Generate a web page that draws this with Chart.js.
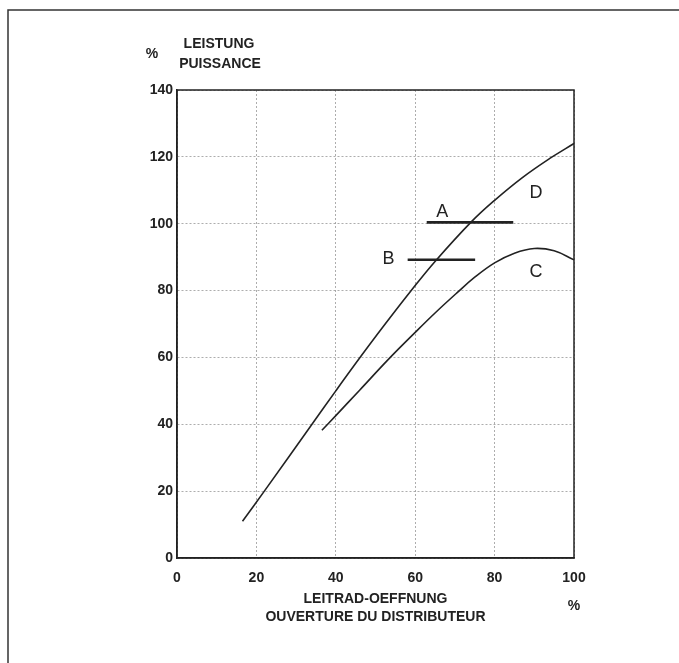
<!DOCTYPE html>
<html>
<head>
<meta charset="utf-8">
<script src="https://cdn.jsdelivr.net/npm/chart.js@4"></script>
<style>
  html, body { margin: 0; padding: 0; background: #fff; }
  canvas { display: block; }
</style>
</head>
<body>
<canvas id="chart" width="679" height="663"></canvas>
<script>
// curve D (upper) and curve C (lower)
const curveDX = [16.5, 22, 34, 40, 46, 52, 59, 65, 74, 80, 87, 94, 100];
const curveDY = [11, 20, 40, 50, 59.8, 69.3, 80, 88.7, 100.4, 107, 113.8, 119.6, 124];
const curveCX = [36.5, 40, 46, 53.3, 60, 65, 70.5, 75, 80, 85, 90, 95, 100];
const curveCY = [38.2, 42.6, 50.2, 59.5, 67.5, 73.3, 79.3, 84, 88.3, 91.2, 92.6, 91.9, 89.2];

// horizontal bars A and B
const barAX = [62.9, 84.7];
const barAY = [100.4, 100.4];
const barBX = [58.1, 75.1];
const barBY = [89.2, 89.2];

// letters next to the curves / bars
const markText = ["A", "B", "C", "D"];
const markX = [66.8, 53.3, 90.4, 90.4];
const markY = [103.4, 89.5, 85.5, 109.3];

const yTitle = ["LEISTUNG", "PUISSANCE"];
const xTitle = ["LEITRAD-OEFFNUNG", "OUVERTURE DU DISTRIBUTEUR"];
const unitLabel = "%";

const FONT = "'Liberation Sans', Arial, Helvetica, sans-serif";

const pts = (xs, ys) => xs.map((x, i) => ({ x: x, y: ys[i] }));

const paperPlugin = {
  id: "paper",
  beforeDraw(chart) {
    const ctx = chart.ctx;
    ctx.save();
    ctx.fillStyle = "#fff";
    ctx.fillRect(0, 0, chart.width, chart.height);
    // outer frame of the figure
    ctx.strokeStyle = "#333";
    ctx.lineWidth = 1.5;
    ctx.beginPath();
    ctx.moveTo(8, chart.height);
    ctx.lineTo(8, 10);
    ctx.lineTo(chart.width, 10);
    ctx.stroke();
    ctx.restore();
  },
  afterDraw(chart) {
    const ctx = chart.ctx;
    const a = chart.chartArea;
    const xs = chart.scales.x;
    const ys = chart.scales.y;
    ctx.save();
    // plot box
    ctx.strokeStyle = "#222";
    ctx.lineWidth = 1.5;
    ctx.strokeRect(a.left, a.top, a.right - a.left, a.bottom - a.top);

    // y axis heading
    ctx.fillStyle = "#222";
    ctx.textBaseline = "middle";
    ctx.textAlign = "center";
    ctx.font = "bold 14px " + FONT;
    ctx.fillText(unitLabel, 152, 54);
    ctx.fillText(yTitle[0], 219, 44);
    ctx.fillText(yTitle[1], 220, 64);
    // x unit
    ctx.fillText(unitLabel, 574, 606);

    // curve letters
    ctx.font = "18px " + FONT;
    markText.forEach((t, i) => {
      ctx.fillText(t, xs.getPixelForValue(markX[i]), ys.getPixelForValue(markY[i]));
    });
    ctx.restore();
  }
};

new Chart(document.getElementById("chart"), {
  type: "line",
  data: {
    datasets: [
      { label: "D", data: pts(curveDX, curveDY), borderColor: "#222", borderWidth: 1.6, tension: 0.4 },
      { label: "C", data: pts(curveCX, curveCY), borderColor: "#222", borderWidth: 1.6, tension: 0.4 },
      { label: "A", data: pts(barAX, barAY), borderColor: "#222", borderWidth: 2.6 },
      { label: "B", data: pts(barBX, barBY), borderColor: "#222", borderWidth: 2.6 }
    ]
  },
  options: {
    responsive: false,
    animation: false,
    events: [],
    layout: { padding: { top: 90, right: 105, left: 0, bottom: 0 } },
    elements: { point: { radius: 0 } },
    plugins: {
      legend: { display: false },
      tooltip: { enabled: false }
    },
    scales: {
      x: {
        type: "linear",
        min: 0,
        max: 100,
        afterFit: (s) => { s.height = 105; },
        ticks: {
          stepSize: 20,
          padding: 12,
          color: "#222",
          font: { family: FONT, size: 14, weight: "bold" }
        },
        grid: { color: "#999", lineWidth: 0.8, drawTicks: false },
        border: { display: true, color: "#222", width: 1.5, dash: [2, 2] },
        title: {
          display: true,
          text: xTitle,
          color: "#222",
          padding: { top: 0, bottom: 37 },
          font: { family: FONT, size: 14, weight: "bold", lineHeight: "18px" }
        }
      },
      y: {
        type: "linear",
        min: 0,
        max: 140,
        afterFit: (s) => { s.width = 177; },
        ticks: {
          stepSize: 20,
          padding: 4,
          color: "#222",
          font: { family: FONT, size: 14, weight: "bold" }
        },
        grid: { color: "#999", lineWidth: 0.8, drawTicks: false },
        border: { display: true, color: "#222", width: 1.5, dash: [2, 2] }
      }
    }
  },
  plugins: [paperPlugin]
});
</script>
</body>
</html>
